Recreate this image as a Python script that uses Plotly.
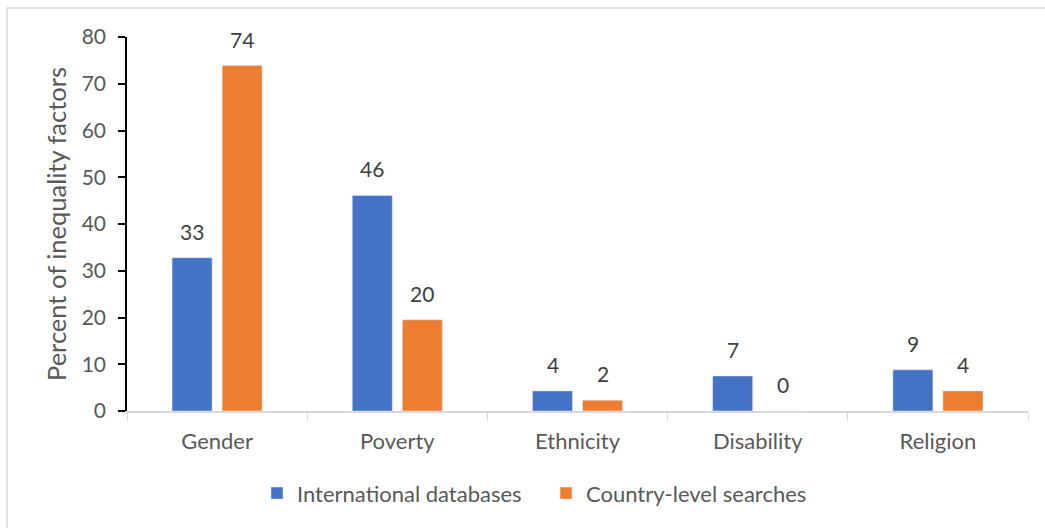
import plotly.graph_objects as go

categories = ["Gender", "Poverty", "Ethnicity", "Disability", "Religion"]
international = [32.8, 46.1, 4.3, 7.5, 8.8]
country = [73.9, 19.5, 2.3, 0.0, 4.3]
intl_labels = ["33", "46", "4", "7", "9"]
country_labels = ["74", "20", "2", "0", "4"]
yticks = [0, 10, 20, 30, 40, 50, 60, 70, 80]

FONT = "Lato, Calibri, sans-serif"
GRAY = "#595959"

fig = go.Figure()
fig.add_trace(go.Bar(name="International databases", x=categories, y=international,
                     marker_color="#4472C4"))
fig.add_trace(go.Bar(name="Country-level searches", x=categories, y=country,
                     marker_color="#ED7D31"))

# data labels above bars
for vals, labs, dx in ((international, intl_labels, -25), (country, country_labels, 25)):
    for c, v, t in zip(categories, vals, labs):
        fig.add_annotation(x=c, y=v, text=t, showarrow=False, xanchor="center", yanchor="bottom",
                           xshift=dx, yshift=12, font=dict(size=21, color="#404040", family=FONT))

L, R, T, B = 127, 17, 37, 117
W, H = 1045, 528
pw, ph = W - L - R, H - T - B

fig.update_layout(
    width=W, height=H,
    margin=dict(l=L, r=R, t=T, b=B),
    barmode="group", bargap=0.4444, bargroupgap=0.2,
    plot_bgcolor="white", paper_bgcolor="white",
    font=dict(family=FONT, color=GRAY, size=20),
    showlegend=True,
    legend=dict(orientation="h", x=(257 - L) / pw, xanchor="left", y=-0.22, yanchor="middle",
                font=dict(size=22, color=GRAY, family=FONT), traceorder="normal",
                itemwidth=30, entrywidth=244, entrywidthmode="pixels"),
)
fig.update_xaxes(showline=True, linecolor="#D9D9D9", linewidth=1.5,
                 ticks="outside", tickson="boundaries", ticklen=8, tickcolor="#D9D9D9",
                 ticklabelstandoff=10,
                 tickfont=dict(size=22, color=GRAY, family=FONT), showgrid=False)
fig.update_yaxes(range=[0, 80], tickvals=yticks, showline=True, linecolor="black", linewidth=1.5,
                 ticks="outside", ticklen=7, tickcolor="black", tickwidth=1.5,
                 ticklabelstandoff=8,
                 tickfont=dict(size=21, color=GRAY, family=FONT), showgrid=False, zeroline=False,
                 title=dict(text="Percent of inequality factors", font=dict(size=25.5, color=GRAY, family=FONT),
                            standoff=8))

# outer chart border
fig.add_shape(type="rect", xref="paper", yref="paper",
              x0=(7 - L) / pw, x1=(W + 10 - L) / pw,
              y0=-(H + 10 - T - ph) / ph, y1=(H - B - 8) / ph,
              line=dict(color="#D9D9D9", width=1.5), fillcolor="rgba(0,0,0,0)", layer="below")

fig.write_html("out.html")
